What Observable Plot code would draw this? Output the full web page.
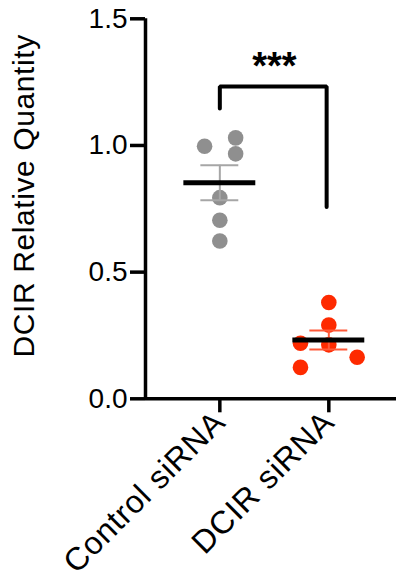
<!DOCTYPE html>
<html><head><meta charset="utf-8">
<script src="https://cdn.jsdelivr.net/npm/d3@7"></script>
<script src="https://cdn.jsdelivr.net/npm/@observablehq/plot@0.6"></script>
<style>body{margin:0;background:#fff} svg{display:block}</style>
</head><body><div id="chart"></div>
<script>
const groups = ["Control siRNA", "DCIR siRNA"];
const controlValues = [0.997, 1.03, 0.967, 0.794, 0.705, 0.623];
const controlJitter = [-0.14, 0.145, 0.145, 0, 0, 0];
const dcirValues = [0.380, 0.291, 0.219, 0.213, 0.164, 0.124];
const dcirJitter = [0, 0, -0.26, 0, 0.26, -0.26];
const yTicks = [0, 0.5, 1.0, 1.5];
const yLabel = "DCIR Relative Quantity";
const significance = "***";
const bracketX = [0, 0, 0.98, 0.98];
const bracketY = [1.146, 1.233, 1.233, 0.757];
const starPos = {x: 0.5, y: 1.31};
const xDomain = [-0.682, 1.621];

const pointColors = ["#8f8f8f", "#fe2a00"];
const errColors = ["#a6a6a6", "#ff5a3a"];

const points = [
  ...controlValues.map((v, i) => ({g: 0, x: 0 + controlJitter[i], v})),
  ...dcirValues.map((v, i) => ({g: 1, x: 1 + dcirJitter[i], v}))
];
const summary = [controlValues, dcirValues].map((vals, g) => {
  const m = d3.mean(vals), se = d3.deviation(vals) / Math.sqrt(vals.length);
  return {g, m, lo: m - se, hi: m + se};
});
const bracket = bracketX.map((x, i) => ({x, y: bracketY[i]}));

const chart = Plot.plot({
  width: 396, height: 586,
  marginLeft: 145, marginRight: 0, marginTop: 18.3, marginBottom: 187.7,
  x: {domain: xDomain},
  y: {domain: [0, 1.5]},
  color: {type: "identity"},
  style: {fontFamily: "'Liberation Sans', Arial, sans-serif", color: "#000", background: "#fff"},
  marks: [
    Plot.dot(points, {x: "x", y: "v", r: 7.8, fill: d => pointColors[d.g], stroke: null}),
    Plot.ruleX(summary, {x: "g", y1: "lo", y2: "hi", stroke: d => errColors[d.g], strokeWidth: 2}),
    Plot.ruleY(summary, {y: "hi", x1: d => d.g - 0.174, x2: d => d.g + 0.174, stroke: d => errColors[d.g], strokeWidth: 2}),
    Plot.ruleY(summary, {y: "lo", x1: d => d.g - 0.174, x2: d => d.g + 0.174, stroke: d => errColors[d.g], strokeWidth: 2}),
    Plot.ruleY(summary, {y: "m", x1: d => d.g - 0.33, x2: d => d.g + 0.33, stroke: "#000", strokeWidth: 5}),
    Plot.line(bracket, {x: "x", y: "y", stroke: "#000", strokeWidth: 4, strokeLinejoin: "miter"}),
    Plot.text([significance], {x: () => starPos.x, y: () => starPos.y, text: d => d, fontSize: 38, fontWeight: "bold", lineAnchor: "middle"}),
    Plot.ruleY([0], {stroke: "#000", strokeWidth: 3.5}),
    Plot.ruleX([xDomain[0]], {stroke: "#000", strokeWidth: 3.5}),
    Plot.axisY({ticks: yTicks, tickFormat: d3.format(".1f"), tickSize: 15, tickPadding: 3, fontSize: 28, strokeWidth: 3.5, label: null}),
    Plot.axisX({ticks: [0, 1], tickFormat: i => groups[i], tickSize: 14, tickPadding: 4, tickRotate: -45, fontSize: 32, strokeWidth: 3.5, label: null}),
    Plot.text([yLabel], {frameAnchor: "left", dx: -121, dy: -13, rotate: -90, textAnchor: "middle", lineAnchor: "middle", fontSize: 30, text: d => d})
  ]
});
d3.select(chart).selectAll('g[aria-label="x-axis tick label"] text').style("letter-spacing", "0.8px");
d3.select(chart).selectAll('g[aria-label="text"] text').filter(function() { return this.textContent === yLabel; }).style("letter-spacing", "0.6px");
document.getElementById("chart").append(chart);
</script>
</body></html>
